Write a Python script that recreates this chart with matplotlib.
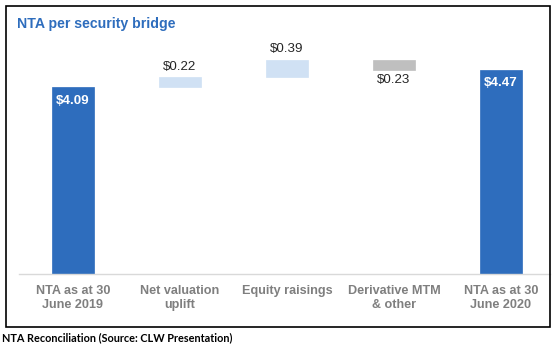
import numpy as np
import matplotlib
matplotlib.use("Agg")
import matplotlib.pyplot as plt
from matplotlib.patches import Rectangle

# Data
categories = ["NTA as at 30\nJune 2019", "Net valuation\nuplift", "Equity raisings",
              "Derivative MTM\n& other", "NTA as at 30\nJune 2020"]
start_value = 4.09
changes = [0.22, 0.39, -0.23]
end_value = 4.47

dark_blue = "#2E6DBD"
light_blue = "#D0E1F4"
grey = "#BFBFBF"

plt.rcParams['font.family'] = ['Liberation Sans', 'DejaVu Sans']

W, H = 559, 351
fig = plt.figure(figsize=(W / 100, H / 100), dpi=100)

# axes placement in pixels
base_y = 273.5
top_y = 20
px_per_unit = 45.5
left_px, right_px = 19.5, 550
ax = fig.add_axes([left_px / W, (H - base_y) / H, (right_px - left_px) / W, (base_y - top_y) / H])

# waterfall geometry
x = np.arange(len(categories))
running = start_value + np.cumsum([0] + changes)
bottoms = [0] + [min(running[i], running[i + 1]) for i in range(len(changes))] + [0]
heights = [start_value] + [abs(c) for c in changes] + [end_value]
colors = [dark_blue] + [light_blue if c > 0 else grey for c in changes] + [dark_blue]

ax.bar(x, heights, bottom=bottoms, width=0.4, color=colors, edgecolor=colors, linewidth=0.5)

# labels
for i, (b, h) in enumerate(zip(bottoms, heights)):
    if i == 0 or i == len(categories) - 1:
        ax.annotate(f"${h:.2f}", (x[i], b + h), xytext=(0, -9.5), textcoords="offset points",
                    ha="center", va="center", color="white", fontsize=9.6, fontweight="bold")
    elif changes[i - 1] > 0:
        ax.annotate(f"${h:.2f}", (x[i], b + h), xytext=(0, 3.5), textcoords="offset points",
                    ha="center", va="bottom", color="#262626", fontsize=9.6)
    else:
        ax.annotate(f"${h:.2f}", (x[i], b), xytext=(0, -3), textcoords="offset points",
                    ha="center", va="top", color="#262626", fontsize=9.6)

ax.set_xlim(-0.5, 4 + (right_px - 501) / 107)
ax.set_ylim(0, (base_y - top_y) / px_per_unit)
ax.set_xticks(x)
ax.set_xticklabels(categories, color="#7F7F7F", fontsize=9.1, fontweight="bold", linespacing=1.25)
ax.tick_params(axis="x", length=0, pad=8)
ax.set_yticks([])
for s in ["top", "left", "right"]:
    ax.spines[s].set_visible(False)
ax.spines["bottom"].set_color("#D9D9D9")
ax.spines["bottom"].set_linewidth(1)

# outer frame
fig.patches.append(Rectangle((6 / W, 1 - 327 / H), (550 - 6) / W, (327 - 6) / H,
                             transform=fig.transFigure, fill=False, edgecolor="black", linewidth=1.2))

fig.text(17 / W, 1 - 24 / H, "NTA per security bridge", color=dark_blue, fontsize=10.2,
         fontweight="bold", ha="left", va="center")
fig.text(2 / W, 1 - 338 / H, "NTA Reconciliation (Source: CLW Presentation)", color="black",
         fontsize=7.8, fontweight="bold", ha="left", va="center", family=["Lato", "DejaVu Sans"])

fig.savefig("out.png", dpi=100)
